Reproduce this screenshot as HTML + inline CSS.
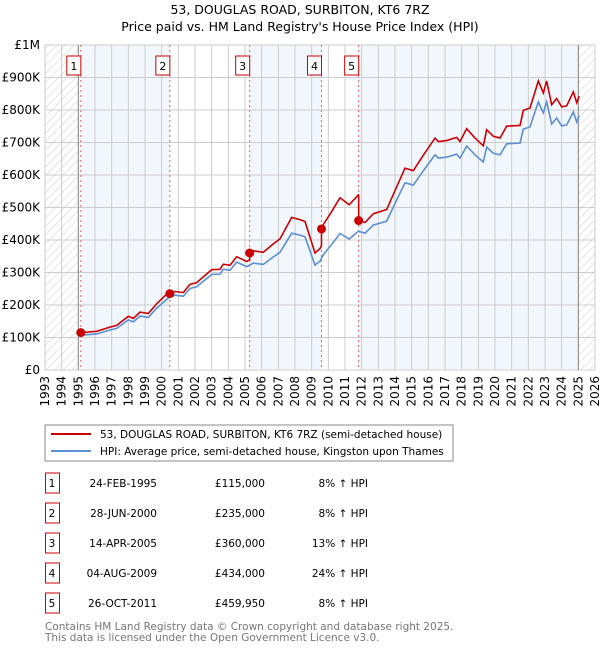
<!DOCTYPE html>
<html><head><meta charset="utf-8"><style>
body{margin:0;background:#fff;font-family:"DejaVu Sans","Liberation Sans",sans-serif;}
svg text{font-family:"DejaVu Sans","Liberation Sans",sans-serif;}
</style></head><body>
<svg id="c" width="600" height="650" xmlns="http://www.w3.org/2000/svg">
<defs><pattern id="hatch" width="6" height="6" patternUnits="userSpaceOnUse" patternTransform="rotate(45)"><line x1="0" y1="0" x2="0" y2="6" stroke="#ccc" stroke-width="1"/></pattern></defs>
<text x="300" y="14" text-anchor="middle" font-size="12.5" fill="#000">53, DOUGLAS ROAD, SURBITON, KT6 7RZ</text>
<text x="300" y="31" text-anchor="middle" font-size="12.5" fill="#000">Price paid vs. HM Land Registry's House Price Index (HPI)</text>
<g id="plot"></g>
<g>
<rect x="45" y="425" width="408" height="36" fill="#fff" stroke="#888"/>
<line x1="51" y1="434" x2="91" y2="434" stroke="#cc0000" stroke-width="2"/>
<text x="100" y="438" font-size="10.5">53, DOUGLAS ROAD, SURBITON, KT6 7RZ (semi-detached house)</text>
<line x1="51" y1="451" x2="91" y2="451" stroke="#5b8fd6" stroke-width="2"/>
<text x="100" y="455" font-size="10.5">HPI: Average price, semi-detached house, Kingston upon Thames</text>
</g>
<g id="table"></g>
<text x="45" y="630" font-size="10.5" fill="#777">Contains HM Land Registry data © Crown copyright and database right 2025.</text>
<text x="45" y="641" font-size="10.5" fill="#777">This data is licensed under the Open Government Licence v3.0.</text>
</svg>
<script>
const hpiYears=[1995.1,1996.1,1996.9,1997.3,1998.0,1998.3,1998.7,1999.2,1999.7,2000.4,2000.8,2001.3,2001.7,2002.1,2003.0,2003.5,2003.7,2004.1,2004.5,2005.1,2005.5,2006.1,2006.7,2007.1,2007.8,2008.3,2008.6,2009.2,2009.5,2009.7,2010.1,2010.7,2011.25,2011.8,2012.2,2012.7,2013.5,2014.1,2014.6,2015.1,2015.6,2016.4,2016.6,2017.1,2017.7,2017.9,2018.3,2018.8,2019.3,2019.5,2019.9,2020.3,2020.7,2021.5,2021.7,2022.1,2022.6,2022.9,2023.1,2023.4,2023.7,2024.0,2024.3,2024.7,2024.9,2025.05];
const hpiValues=[107,111,123,128,154,148,166,162,190,222,230,227,251,256,294,295,310,307,332,318,329,325,348,362,421,415,410,323,335,355,380,420,403,427,421,446,458,523,576,569,606,662,652,655,664,652,689,662,640,686,667,662,696,698,741,748,825,791,825,757,775,751,754,794,763,782];
const saleYears=[1995.15,2000.49,2005.28,2009.59,2011.82];
const salePrices=[115,235,360,434,459.95];
const saleLabels=["1","2","3","4","5"];
const saleDates=["24-FEB-1995","28-JUN-2000","14-APR-2005","04-AUG-2009","26-OCT-2011"];
const salePriceText=["£115,000","£235,000","£360,000","£434,000","£459,950"];
const salePct=["8%","8%","13%","24%","8%"];
const yTicks=[0,100,200,300,400,500,600,700,800,900,1000];
const yTickLabels=["£0","£100K","£200K","£300K","£400K","£500K","£600K","£700K","£800K","£900K","£1M"];
const xTicks=[];for(let y=1993;y<=2026;y++)xTicks.push(y);

const NS="http://www.w3.org/2000/svg";
const L=45,R=595,T=45,B=370,x0=1993,x1=2026,yMax=1000;
const X=v=>L+(v-x0)/(x1-x0)*(R-L);
const Y=v=>B-v/yMax*(B-T);
function mk(tag,attrs,parent){const e=document.createElementNS(NS,tag);for(const k in attrs)e.setAttribute(k,attrs[k]);parent.appendChild(e);return e;}
const g=document.getElementById('plot');
function hpiAt(t){for(let i=0;i<hpiYears.length-1;i++){if(t>=hpiYears[i]&&t<=hpiYears[i+1]){const f=(t-hpiYears[i])/(hpiYears[i+1]-hpiYears[i]);return hpiValues[i]+f*(hpiValues[i+1]-hpiValues[i]);}}return t<hpiYears[0]?hpiValues[0]:hpiValues[hpiValues.length-1];}
const bandEdges=saleYears.concat([2025.0]);
for(let i=0;i<saleYears.length;i++){if(i%2===0){const r=mk('rect',{x:X(bandEdges[i]),y:T,width:X(bandEdges[i+1])-X(bandEdges[i]),height:B-T,fill:'#f2f6fd'},g);

}}
const h1=mk('rect',{x:L,y:T,width:X(1995)-L,height:B-T,fill:'url(#hatch)'},g);


const h2=mk('rect',{x:X(2025),y:T,width:R-X(2025),height:B-T,fill:'url(#hatch)'},g);


yTicks.forEach((v,i)=>{mk('line',{x1:L,x2:R,y1:Y(v),y2:Y(v),stroke:'#ccc','stroke-width':1},g);
const t=mk('text',{x:L-5,y:Y(v)+4,'text-anchor':'end','font-size':12,fill:'#000'},g);t.textContent=yTickLabels[i];

});
xTicks.forEach(v=>{mk('line',{x1:X(v),x2:X(v),y1:T,y2:B,stroke:'#ccc','stroke-width':1},g);
const t=mk('text',{x:0,y:0,'text-anchor':'end','font-size':12,fill:'#000',transform:`translate(${X(v)+4},${B+6}) rotate(-90)`},g);t.textContent=v;

});
mk('rect',{x:L,y:T,width:R-L,height:B-T,fill:'none',stroke:'#ccc'},g);
mk('line',{x1:X(1995),x2:X(1995),y1:T,y2:B,stroke:'#888'},g);
mk('line',{x1:X(2025),x2:X(2025),y1:T,y2:B,stroke:'#888'},g);
saleYears.forEach((s,i)=>{mk('line',{x1:X(s),x2:X(s),y1:T,y2:B,stroke:'#e06060','stroke-dasharray':'2,3'},g);
const bx=X(s)-11;mk('rect',{x:bx-3,y:56,width:14,height:19,fill:'#fff',stroke:'#cc0000'},g);
const t=mk('text',{x:bx+4,y:70,'text-anchor':'middle','font-size':11},g);t.textContent=saleLabels[i];

});
const hp=mk('polyline',{points:hpiYears.map((t,i)=>X(t)+','+Y(hpiValues[i])).join(' '),fill:'none',stroke:'#5b8fd6','stroke-width':1.6},g);


const pts=[];
for(let i=0;i<saleYears.length;i++){const ratio=salePrices[i]/hpiAt(saleYears[i]);const end=i<saleYears.length-1?saleYears[i+1]:2025.1;
pts.push([saleYears[i],salePrices[i]]);
hpiYears.forEach((t,j)=>{if(t>saleYears[i]&&t<end)pts.push([t,hpiValues[j]*ratio]);});
if(i<saleYears.length-1)pts.push([end,hpiAt(end)*ratio]);}
const pp=mk('polyline',{points:pts.map(p=>X(p[0])+','+Y(p[1])).join(' '),fill:'none',stroke:'#cc0000','stroke-width':1.6},g);


saleYears.forEach((s,i)=>{const c=mk('circle',{cx:X(s),cy:Y(salePrices[i]),r:4.5,fill:'#cc0000'},g);

});
const tb=document.getElementById('table');
saleYears.forEach((s,i)=>{const cy=483+i*30;
const r=mk('rect',{x:45.5,y:cy-10,width:14,height:20,fill:'#fff',stroke:'#cc0000'},tb);


const cells=[[52,'middle',saleLabels[i]],[157,'end',saleDates[i]],[265,'end',salePriceText[i]],[368,'end',salePct[i]+' ↑ HPI']];
cells.forEach(c=>{const t=mk('text',{x:c[0],y:cy+4,'text-anchor':c[1],'font-size':10.5},tb);t.textContent=c[2];

});});
</script>
</body></html>
